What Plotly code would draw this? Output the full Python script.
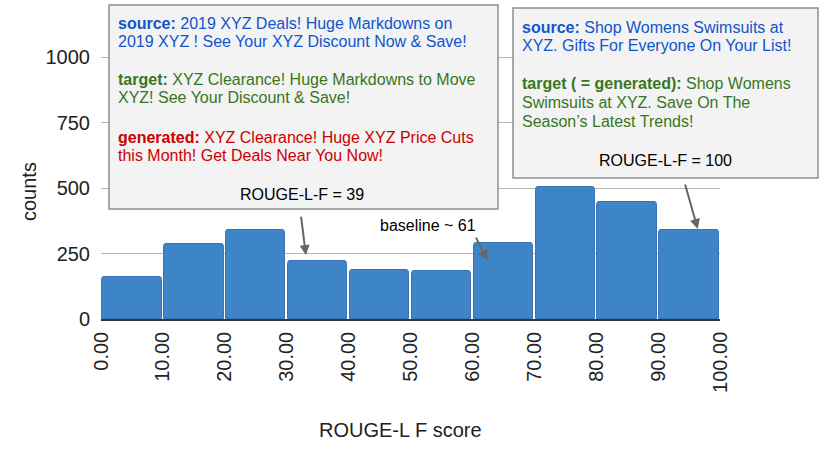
import plotly.graph_objects as go

# --- data ---
bin_edges = [0, 10, 20, 30, 40, 50, 60, 70, 80, 90, 100]
counts = [160, 285, 340, 220, 188, 185, 290, 503, 445, 341]
y_ticks = [0, 250, 500, 750, 1000]

# callout texts
box1_lines = [
    ("<b>source:</b> 2019 XYZ Deals! Huge Markdowns on", "src"),
    ("2019 XYZ ! See Your XYZ Discount Now &amp; Save!", "src"),
    ("<b>target:</b> XYZ Clearance! Huge Markdowns to Move", "tgt"),
    ("XYZ! See Your Discount &amp; Save!", "tgt"),
    ("<b>generated:</b> XYZ Clearance! Huge XYZ Price Cuts", "gen"),
    ("this Month! Get Deals Near You Now!", "gen"),
]
box1_score = "ROUGE-L-F = 39"
box2_lines = [
    ("<b>source:</b> Shop Womens Swimsuits at", "src"),
    ("XYZ. Gifts For Everyone On Your List!", "src"),
    ("<b>target ( = generated):</b> Shop Womens", "tgt"),
    ("Swimsuits at XYZ. Save On The", "tgt"),
    ("Season’s Latest Trends!", "tgt"),
]
box2_score = "ROUGE-L-F = 100"
baseline_label = "baseline ~ 61"

colors = {"src": "#1155cc", "tgt": "#38761d", "gen": "#cc0000"}
FONT = "Arial, Liberation Sans, sans-serif"

centers = [(a + b) / 2 for a, b in zip(bin_edges[:-1], bin_edges[1:])]

# pixel layout of the plot area (830x467 canvas)
PL, PR, PT, PB = 101, 720, 31, 319


def px(x):
    return (x - PL) / (PR - PL)


def py(y):
    return (PB - y) / (PB - PT)


fig = go.Figure(go.Bar(
    x=centers,
    y=counts,
    width=9.6,
    marker=dict(color="#3d85c6", line=dict(color="#3674b3", width=1), cornerradius=3),
    hoverinfo="skip",
))

shapes = []
annotations = []

# callout boxes
for x0, y0, x1, y1 in [(109, 5, 498, 209), (513, 8, 818, 178)]:
    shapes.append(dict(type="rect", xref="paper", yref="paper",
                       x0=px(x0), x1=px(x1), y0=py(y1), y1=py(y0),
                       fillcolor="#f3f3f3", line=dict(color="#8f8f8f", width=1.5),
                       layer="above"))


def add_lines(lines, x_left, baselines):
    for (txt, kind), b in zip(lines, baselines):
        annotations.append(dict(
            xref="paper", yref="paper", x=px(x_left), y=py(b - 5),
            xanchor="left", yanchor="middle", showarrow=False,
            text=txt, font=dict(family=FONT, size=16, color=colors[kind]),
        ))


add_lines(box1_lines, 116, [28, 47, 85, 103, 142, 160])
add_lines(box2_lines, 520, [32, 50, 88, 107, 126])

for txt, cx, b in [(box1_score, 302, 199), (box2_score, 665, 165)]:
    annotations.append(dict(
        xref="paper", yref="paper", x=px(cx), y=py(b - 5),
        xanchor="center", yanchor="middle", showarrow=False,
        text=txt, font=dict(family=FONT, size=16, color="#000000"),
    ))

annotations.append(dict(
    xref="paper", yref="paper", x=px(478), y=py(226),
    xanchor="right", yanchor="middle", showarrow=False,
    text=baseline_label, font=dict(family=FONT, size=16, color="#000000"),
))

# arrows pointing at the bins
for x, y, ax, ay in [(33.1, 244, -5, -40), (62.4, 225, -12, -24), (96.4, 344, -13, -46)]:
    annotations.append(dict(
        x=x, y=y, xref="x", yref="y", ax=ax, ay=ay, text="",
        showarrow=True, arrowhead=2, arrowsize=1, arrowwidth=2, arrowcolor="#666666",
    ))

# axis titles
annotations.append(dict(
    xref="paper", yref="paper", x=px(400), y=py(430),
    xanchor="center", yanchor="middle", showarrow=False,
    text="ROUGE-L F score", font=dict(family=FONT, size=20, color="#222222"),
))
annotations.append(dict(
    xref="paper", yref="paper", x=px(29), y=py(192),
    xanchor="center", yanchor="middle", showarrow=False, textangle=-90,
    text="counts", font=dict(family=FONT, size=20, color="#222222"),
))

fig.update_layout(
    width=830, height=467,
    margin=dict(l=PL, r=830 - PR, t=PT, b=467 - PB),
    paper_bgcolor="white", plot_bgcolor="white",
    showlegend=False,
    bargap=0,
    font=dict(family=FONT, color="#222222"),
    shapes=shapes,
    annotations=annotations,
    xaxis=dict(
        range=[0, 100], tickvals=bin_edges, tickformat=".2f", tickangle=-90,
        tickfont=dict(size=20, color="#222222"),
        ticks="outside", ticklen=3, tickcolor="rgba(0,0,0,0)",
        showgrid=False, zeroline=False,
        showline=True, linecolor="#333333", linewidth=1.5,
    ),
    yaxis=dict(
        range=[0, 1100], tickvals=y_ticks,
        tickfont=dict(size=20, color="#222222"),
        ticks="outside", ticklen=6, tickcolor="rgba(0,0,0,0)",
        showgrid=True, gridcolor="#b7b7b7", gridwidth=1,
        zeroline=False, showline=False,
    ),
)

# page body has a default 8px margin; drop it so the chart sits at the origin
fig.write_html("out.html", config={"displayModeBar": False},
               post_script="document.body.style.margin='0';")
